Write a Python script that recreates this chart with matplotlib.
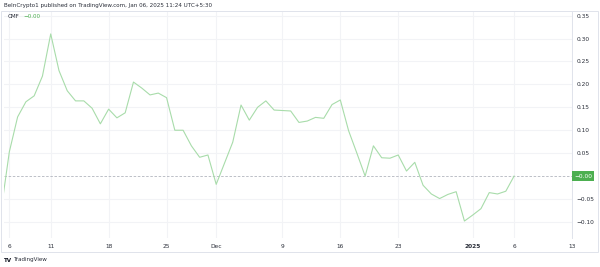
import matplotlib.pyplot as plt
import pandas as pd

# CMF daily values, Nov 5 2024 .. Jan 6 2025
start_date = "2024-11-05"
cmf = [
    -0.075, 0.053, 0.129, 0.162, 0.175, 0.218, 0.310, 0.230, 0.186, 0.164,
    0.164, 0.148, 0.114, 0.146, 0.127, 0.138, 0.205, 0.192, 0.177, 0.181,
    0.171, 0.100, 0.100, 0.066, 0.041, 0.046,
    -0.018, 0.028, 0.074, 0.155, 0.122, 0.150, 0.164, 0.144, 0.143, 0.142,
    0.117, 0.120, 0.128, 0.126, 0.156, 0.166, 0.099, 0.050, 0.000, 0.066,
    0.040, 0.039, 0.046, 0.011, 0.030, -0.020, -0.039, -0.049, -0.040, -0.034,
    -0.098,
    -0.085, -0.071, -0.036, -0.039, -0.033, 0.000,
]
dates = pd.date_range(start_date, periods=len(cmf), freq="D")

x_ticks = ["2024-11-06", "2024-11-11", "2024-11-18", "2024-11-25", "2024-12-01",
           "2024-12-09", "2024-12-16", "2024-12-23", "2025-01-01", "2025-01-06",
           "2025-01-13"]
x_labels = ["6", "11", "18", "25", "Dec", "9", "16", "23", "2025", "6", "13"]
y_ticks = [0.35, 0.30, 0.25, 0.20, 0.15, 0.10, 0.05, -0.05, -0.10]

W, H = 600, 267
fig = plt.figure(figsize=(6, 2.67), dpi=100)
fig.patch.set_facecolor("white")

# pane: x 4..572 px, y 11..238 px (from top)
ax = fig.add_axes([4 / W, 1 - 238 / H, 568 / W, 227 / H])
ax.set_facecolor("white")

tick_dates = pd.to_datetime(x_ticks)
for d in tick_dates:
    ax.axvline(d, color="#f2f3f6", lw=0.8, zorder=0)
for v in y_ticks:
    ax.axhline(v, color="#f2f3f6", lw=0.8, zorder=0)

ax.axhline(0, color="#b2b5be", lw=0.6, ls=(0, (3, 2)), zorder=1)
ax.plot(dates, cmf, color="#a8dcaa", lw=0.8, zorder=2)

ax.set_xlim(pd.Timestamp("2024-11-06") - pd.Timedelta(hours=15.5),
            pd.Timestamp("2025-01-12") + pd.Timedelta(hours=19))
ax.set_ylim(-0.135, 0.360)

for s in ax.spines.values():
    s.set_visible(False)
ax.spines["right"].set_visible(True)
ax.spines["right"].set_color("#e0e3eb")
ax.spines["right"].set_linewidth(0.7)

ax.yaxis.tick_right()
ax.set_yticks(y_ticks)
ax.set_yticklabels([f"{v:.2f}".replace("-", "\u2212") for v in y_ticks])
ax.tick_params(axis="y", length=0, pad=3.5, labelsize=4.2, labelcolor="#2a2e39")

ax.set_xticks(tick_dates)
ax.set_xticklabels(x_labels)
ax.tick_params(axis="x", length=0, pad=4.5, labelsize=4.2, labelcolor="#2a2e39")
for lbl in ax.get_xticklabels():
    if lbl.get_text() == "2025":
        lbl.set_fontweight("bold")

# frame around the whole chart
frame = plt.Rectangle((1 / W, 1 - 252 / H), 597 / W, 241 / H, transform=fig.transFigure,
                      fill=False, ec="#e0e3eb", lw=0.7)
fig.add_artist(frame)

# last value label on price axis
ax.annotate("\u22120.00", xy=(1.0, 0.0), xycoords=("axes fraction", "data"),
            xytext=(8, 0), textcoords="offset points", ha="center", va="center",
            fontsize=4.2, color="white",
            bbox=dict(boxstyle="square,pad=0.4", fc="#4caf50", ec="none"))

fig.text(4 / W, 1 - 5 / H, "BeInCrypto1 published on TradingView.com, Jan 06, 2025 11:24 UTC+5:30",
         fontsize=4.1, color="#2a2e39", va="center", ha="left")
fig.text(8 / W, 1 - 17 / H, "CMF", fontsize=4.1, color="#2a2e39", va="center", ha="left")
fig.text(23 / W, 1 - 17 / H, "\u22120.00", fontsize=4.1, color="#4caf50", va="center", ha="left")
fig.text(4 / W, 1 - 260 / H, "TV", fontsize=4.1, color="#131722", va="center", ha="left",
         fontweight="bold")
fig.text(14 / W, 1 - 260 / H, "TradingView", fontsize=4.1, color="#2a2e39", va="center", ha="left")

fig.savefig("out.png", dpi=100, facecolor="white")
